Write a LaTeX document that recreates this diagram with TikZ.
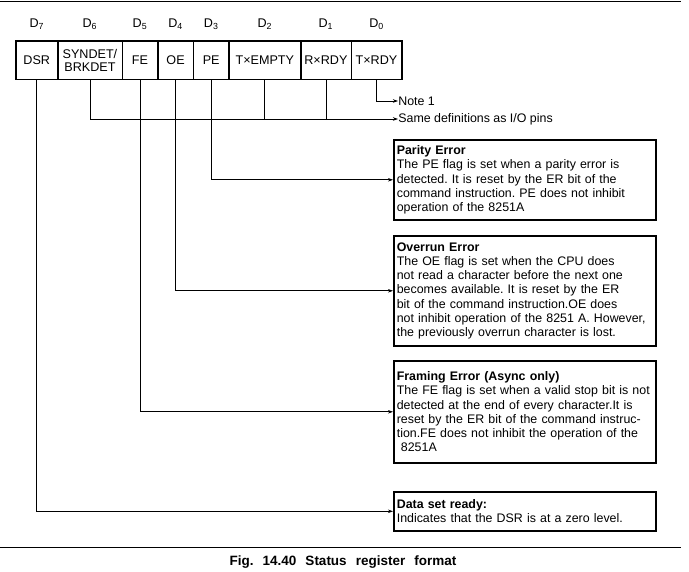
\documentclass[tikz,border=0pt]{standalone}
\usepackage{fontspec}
\setmainfont{Liberation Sans}
\usetikzlibrary{arrows.meta,positioning}
\frenchspacing

\newcommand{\boxfont}{\fontsize{12.4}{14.2}\selectfont}
\newcommand{\regfont}{\fontsize{12.6}{13}\selectfont}

\tikzset{
  bitcell/.style={draw, line width=0.6pt, minimum height=38pt, inner sep=0pt,
    align=center, font=\regfont},
  bitlbl/.style={font=\regfont, inner sep=0pt},
  infobox/.style={draw, line width=1.6pt, anchor=north west, text width=256pt,
    inner xsep=3pt, inner ysep=3pt, align=left, font=\boxfont},
  notetxt/.style={anchor=west, inner sep=0pt, font=\boxfont},
}

\begin{document}
\begin{tikzpicture}[x=1pt,y=-1pt,>={Stealth[length=5pt,width=3.5pt]},line width=0.7pt]
    \useasboundingbox (0,0) rectangle (689,572);

    % page rules
    \draw[line width=1pt] (0,2) -- (681,2);
    \draw[line width=1pt] (0,547) -- (681,547);

    % the register
    \node[bitcell, minimum width=41pt, anchor=north west] (b7) at (16,41) {DSR};
    \node[bitcell, minimum width=64pt] (b6) [right=0pt of b7] {SYNDET/\\BRKDET};
    \node[bitcell, minimum width=35pt] (b5) [right=0pt of b6] {FE};
    \node[bitcell, minimum width=35pt] (b4) [right=0pt of b5] {OE};
    \node[bitcell, minimum width=35pt] (b3) [right=0pt of b4] {PE};
    \node[bitcell, minimum width=71pt] (b2) [right=0pt of b3] {T×EMPTY};
    \node[bitcell, minimum width=50pt] (b1) [right=0pt of b2] {R×RDY};
    \node[bitcell, minimum width=50pt] (b0) [right=0pt of b1] {T×RDY};
    \draw[line width=1.6pt] (b7.north west) rectangle (b0.south east);

    \foreach \i in {0,...,7}
      \node[bitlbl] (d\i) [above=11pt of b\i] {D\textsubscript{\i}};

    % the flag descriptions
    \node[infobox, minimum height=80pt] (parity) at (393,139)
      {\textbf{Parity Error}\\
       The PE flag is set when a parity error is\\
       detected. It is reset by the ER bit of the\\
       command instruction. PE does not inhibit\\
       operation of the 8251A};
    \node[infobox, minimum height=110pt] (overrun) at (393,235)
      {\textbf{Overrun Error}\\
       The OE flag is set when the CPU does\\
       not read a character before the next one\\
       becomes available. It is reset by the ER\\
       bit of the command instruction.OE does\\
       not inhibit operation of the 8251 A. However,\\
       the previously overrun character is lost.};
    \node[infobox, minimum height=102pt] (framing) at (393,360)
      {\textbf{Framing Error (Async only)}\\
       The FE flag is set when a valid stop bit is not\\
       detected at the end of every character.It is\\
       reset by the ER bit of the command instruc-\\
       tion.FE does not inhibit the operation of the\\
       \ 8251A};
    \node[infobox, minimum height=39pt] (dsrbox) at (393,491)
      {\textbf{Data set ready:}\\
       Indicates that the DSR is at a zero level.};

    \node[notetxt] (note) at (398,101) {Note 1};
    \node[notetxt] (same) at (398,119) {Same definitions as I/O pins};

    % connections
    \draw[->] (b0.south) |- (note.west);
    \draw[->] (b6.south) |- (same.west);
    \draw (b2.south) -- (b2.south |- same.west);
    \draw (b1.south) -- (b1.south |- same.west);
    \draw[->] (b3.south) |- (parity.west);
    \draw[->] (b4.south) |- (overrun.west);
    \draw[->] (b5.south) |- (framing.west);
    \draw[->] (b7.south) |- (dsrbox.west);

    \node[font=\bfseries\fontsize{13.5}{15}\selectfont, inner sep=0pt] (caption) at (343,562)
      {\spaceskip=9pt Fig. 14.40 Status register format};
\end{tikzpicture}
\end{document}
